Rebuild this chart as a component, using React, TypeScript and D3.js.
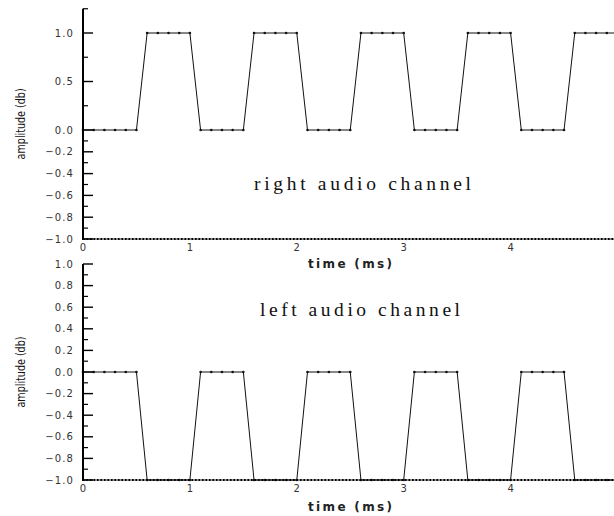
import React from 'react';
import * as d3 from 'd3';

// sample times (ms)
const times = [
  0, 0.1, 0.2, 0.3, 0.4, 0.5, 0.6, 0.7, 0.8, 0.9,
  1, 1.1, 1.2, 1.3, 1.4, 1.5, 1.6, 1.7, 1.8, 1.9,
  2, 2.1, 2.2, 2.3, 2.4, 2.5, 2.6, 2.7, 2.8, 2.9,
  3, 3.1, 3.2, 3.3, 3.4, 3.5, 3.6, 3.7, 3.8, 3.9,
  4, 4.1, 4.2, 4.3, 4.4, 4.5, 4.6, 4.7, 4.8, 4.9, 5,
];

const rightChannel = [
  0, 0, 0, 0, 0, 0, 1, 1, 1, 1,
  1, 0, 0, 0, 0, 0, 1, 1, 1, 1,
  1, 0, 0, 0, 0, 0, 1, 1, 1, 1,
  1, 0, 0, 0, 0, 0, 1, 1, 1, 1,
  1, 0, 0, 0, 0, 0, 1, 1, 1, 1, 1,
];

const leftChannel = [
  0, 0, 0, 0, 0, 0, -1, -1, -1, -1,
  -1, 0, 0, 0, 0, 0, -1, -1, -1, -1,
  -1, 0, 0, 0, 0, 0, -1, -1, -1, -1,
  -1, 0, 0, 0, 0, 0, -1, -1, -1, -1,
  -1, 0, 0, 0, 0, 0, -1, -1, -1, -1, -1,
];

const xTicks = [0, 1, 2, 3, 4, 5];
const topMajor = [1, 0.5, 0, -0.2, -0.4, -0.6, -0.8, -1];
const topMinor = [1.25, 0.75, 0.25, -0.1, -0.3, -0.5, -0.7, -0.9];
const botMajor = [1, 0.8, 0.6, 0.4, 0.2, 0, -0.2, -0.4, -0.6, -0.8, -1];
const botMinor = [0.9, 0.7, 0.5, 0.3, 0.1, -0.1, -0.3, -0.5, -0.7, -0.9];

const W = 614, H = 516;
const sans = 'DejaVu Sans, Liberation Sans, sans-serif';
const fmt = d3.format('.1f');

const x = d3.scaleLinear().domain([0, 5]).range([83, 617.5]);

type PanelProps = {
  values: number[];
  y: d3.ScaleLinear<number, number>;
  major: number[];
  minor: number[];
  top: number;
  title: string;
  titleX: number;
  titleY: number;
  titleLen: number;
  xLabelY: number;
  timeY: number;
};

const Panel = ({ values, y, major, minor, top, title, titleX, titleY, titleLen, xLabelY, timeY }: PanelProps) => {
  const y0 = y.range()[0];
  const pts: [number, number][] = times.map((t, i) => [x(t), y(values[i])]);
  const line = d3.line()(pts) || '';
  const ax = x(0);
  const midY = (y0 + top) / 2;
  return (
    <g>
      <path d={line} fill="none" stroke="#111" strokeWidth={1} />
      {pts.map((p, i) => (
        <circle key={i} cx={p[0]} cy={p[1]} r={1.3} fill="#111" />
      ))}
      {/* x axis: dense dotted baseline */}
      <line x1={ax} x2={W} y1={y0} y2={y0} stroke="#222" strokeWidth={1} />
      <line x1={ax} x2={W} y1={y0} y2={y0} stroke="#000" strokeWidth={2.2} strokeDasharray="1.6 1.9" />
      {/* y axis */}
      <line x1={ax} x2={ax} y1={top} y2={y0 + 1} stroke="#000" strokeWidth={2} />
      {major.map(v => (
        <g key={'M' + v}>
          <line x1={ax} x2={ax + 10} y1={y(v)} y2={y(v)} stroke="#000" strokeWidth={1.4} />
          <text x={74} y={y(v)} dy="0.35em" textAnchor="end" fontFamily={sans} fontSize={10} letterSpacing={1.1} fill="#333">
            {fmt(v)}
          </text>
        </g>
      ))}
      {minor.map(v => (
        <line key={'m' + v} x1={ax} x2={ax + 5} y1={y(v)} y2={y(v)} stroke="#000" strokeWidth={1.2} />
      ))}
      {xTicks.map(t => (
        <text key={t} x={x(t)} y={xLabelY} dy="0.35em" textAnchor="middle" fontFamily={sans} fontSize={10} fill="#333">
          {t}
        </text>
      ))}
      <text x={350} y={timeY} dy="0.35em" textAnchor="middle" fontFamily={sans} fontSize={12} fontWeight="bold"
        fill="#222" textLength={84} lengthAdjust="spacing">
        time (ms)
      </text>
      <text transform={`translate(21,${midY}) rotate(-90)`} dy="0.35em" textAnchor="middle"
        fontFamily="Liberation Sans Narrow, DejaVu Sans Condensed, sans-serif" fontSize={12.5} fill="#111"
        textLength={71} lengthAdjust="spacingAndGlyphs">
        amplitude (db)
      </text>
      <text x={titleX} y={titleY} dy="0.35em" fontFamily="Liberation Serif, DejaVu Serif, serif" fontSize={19.5}
        fill="#111" textLength={titleLen} lengthAdjust="spacing">
        {title}
      </text>
    </g>
  );
};

export default function App() {
  const yTop = d3.scaleLinear().domain([-1, 0, 1.25]).range([239, 130, 8.75]);
  const yBot = d3.scaleLinear().domain([-1, 1]).range([480, 264]);
  return (
    <svg width={W} height={H} style={{ position: 'absolute', left: 0, top: 0, background: '#fff' }}>
      <rect width={W} height={H} fill="#fff" />
      <Panel values={rightChannel} y={yTop} major={topMajor} minor={topMinor} top={8.75}
        title="right audio channel" titleX={254} titleY={183} titleLen={217} xLabelY={247} timeY={264} />
      <Panel values={leftChannel} y={yBot} major={botMajor} minor={botMinor} top={264}
        title="left audio channel" titleX={260} titleY={309} titleLen={200} xLabelY={488} timeY={507} />
    </svg>
  );
}
